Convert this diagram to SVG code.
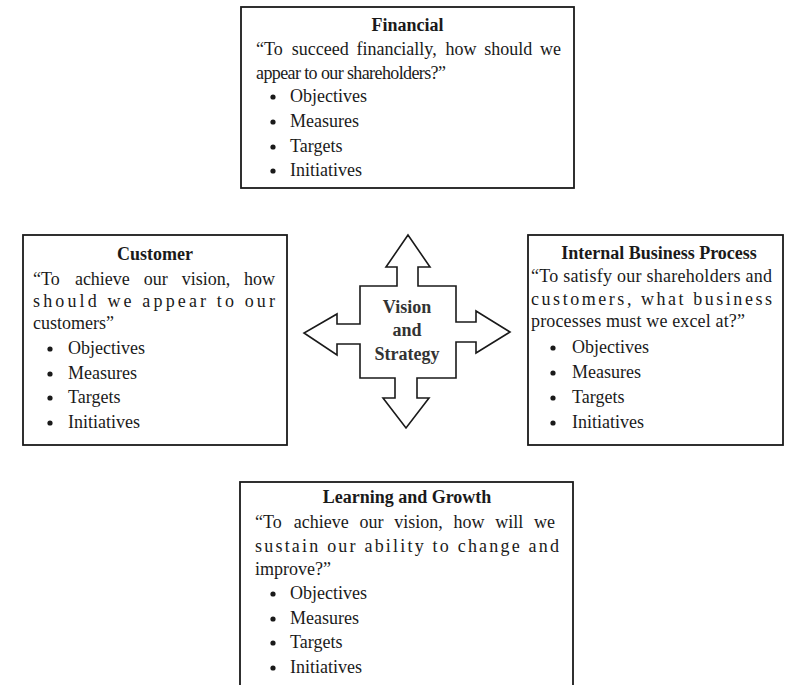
<svg xmlns="http://www.w3.org/2000/svg" width="785" height="685" viewBox="0 0 785 685">
<style>
  text { font-family: "Liberation Serif", "Times New Roman", serif; font-size: 18px; fill: #1a1a1a; }
  .title { font-weight: bold; text-anchor: middle; }
  .box { fill: #fff; stroke: #1a1a1a; stroke-width: 1.8; }
  .bul { fill: #1a1a1a; }
  .cross { fill: #fff; stroke: #1a1a1a; stroke-width: 1.6; stroke-linejoin: miter; }
  .vs { font-weight: bold; text-anchor: middle; fill: #333; }
</style>
<rect width="785" height="685" fill="#fff"/>

<g id="financial">
  <rect class="box" x="241" y="7" width="333" height="181"/>
  <text class="title" x="407.5" y="31">Financial</text>
  <text y="55"><tspan x="256">“To</tspan><tspan x="291.7">succeed</tspan><tspan x="356.4">financially,</tspan><tspan x="445.6">how</tspan><tspan x="484.3">should</tspan><tspan x="540">we</tspan></text>
  <text x="256" y="79" textLength="190" lengthAdjust="spacing">appear to our shareholders?”</text>
  <circle class="bul" cx="273" cy="97" r="2.6"/><text x="290" y="102">Objectives</text>
  <circle class="bul" cx="273" cy="122" r="2.6"/><text x="290" y="127">Measures</text>
  <circle class="bul" cx="273" cy="147" r="2.6"/><text x="290" y="152">Targets</text>
  <circle class="bul" cx="273" cy="171" r="2.6"/><text x="290" y="176">Initiatives</text>
</g>

<g id="customer">
  <rect class="box" x="23" y="235" width="264" height="210"/>
  <text class="title" x="155" y="260">Customer</text>
  <text y="285"><tspan x="33">“To</tspan><tspan x="74.9">achieve</tspan><tspan x="143.8">our</tspan><tspan x="181.7">vision,</tspan><tspan x="244.1">how</tspan></text>
  <text x="33" y="307" textLength="242" lengthAdjust="spacing">should we appear to our</text>
  <text x="33" y="329">customers”</text>
  <circle class="bul" cx="50" cy="349" r="2.6"/><text x="68" y="354">Objectives</text>
  <circle class="bul" cx="50" cy="374" r="2.6"/><text x="68" y="379">Measures</text>
  <circle class="bul" cx="50" cy="398" r="2.6"/><text x="68" y="403">Targets</text>
  <circle class="bul" cx="50" cy="423" r="2.6"/><text x="68" y="428">Initiatives</text>
</g>

<g id="internal">
  <rect class="box" x="528" y="235" width="255" height="210"/>
  <text class="title" x="659" y="259">Internal Business Process</text>
  <text x="531" y="282" textLength="241" lengthAdjust="spacing">“To satisfy our shareholders and</text>
  <text x="531" y="305" textLength="241" lengthAdjust="spacing">customers, what business</text>
  <text x="531" y="327" textLength="214" lengthAdjust="spacing">processes must we excel at?”</text>
  <circle class="bul" cx="553" cy="348" r="2.6"/><text x="572" y="353">Objectives</text>
  <circle class="bul" cx="553" cy="373" r="2.6"/><text x="572" y="378">Measures</text>
  <circle class="bul" cx="553" cy="398" r="2.6"/><text x="572" y="403">Targets</text>
  <circle class="bul" cx="553" cy="423" r="2.6"/><text x="572" y="428">Initiatives</text>
</g>

<g id="learning">
  <rect class="box" x="240" y="482" width="333" height="220"/>
  <text class="title" x="407" y="503">Learning and Growth</text>
  <text y="528"><tspan x="255">“To</tspan><tspan x="293.8">achieve</tspan><tspan x="359.5">our</tspan><tspan x="394.3">vision,</tspan><tspan x="453.5">how</tspan><tspan x="495.3">will</tspan><tspan x="534">we</tspan></text>
  <text x="255" y="552" textLength="304" lengthAdjust="spacing">sustain our ability to change and</text>
  <text x="255" y="575">improve?”</text>
  <circle class="bul" cx="273" cy="594" r="2.6"/><text x="290" y="599">Objectives</text>
  <circle class="bul" cx="273" cy="619" r="2.6"/><text x="290" y="624">Measures</text>
  <circle class="bul" cx="273" cy="643" r="2.6"/><text x="290" y="648">Targets</text>
  <circle class="bul" cx="273" cy="668" r="2.6"/><text x="290" y="673">Initiatives</text>
</g>

<g id="vision">
  <polygon class="cross" points="408,235 430,267 418,267 418,286 456,286 456,322 476,322 476,311 510,332 476,353 476,342 456,342 456,378 417,378 417,398 429,398 406,428 383,398 395,398 395,378 360,378 360,344 337,344 337,355 304,333 337,314 337,324 360,324 360,286 397,286 397,267 386,267"/>
  <text class="vs" x="407" y="313">Vision</text>
  <text class="vs" x="407" y="336">and</text>
  <text class="vs" x="407" y="360">Strategy</text>
</g>

<g id="connectors"></g>
</svg>
